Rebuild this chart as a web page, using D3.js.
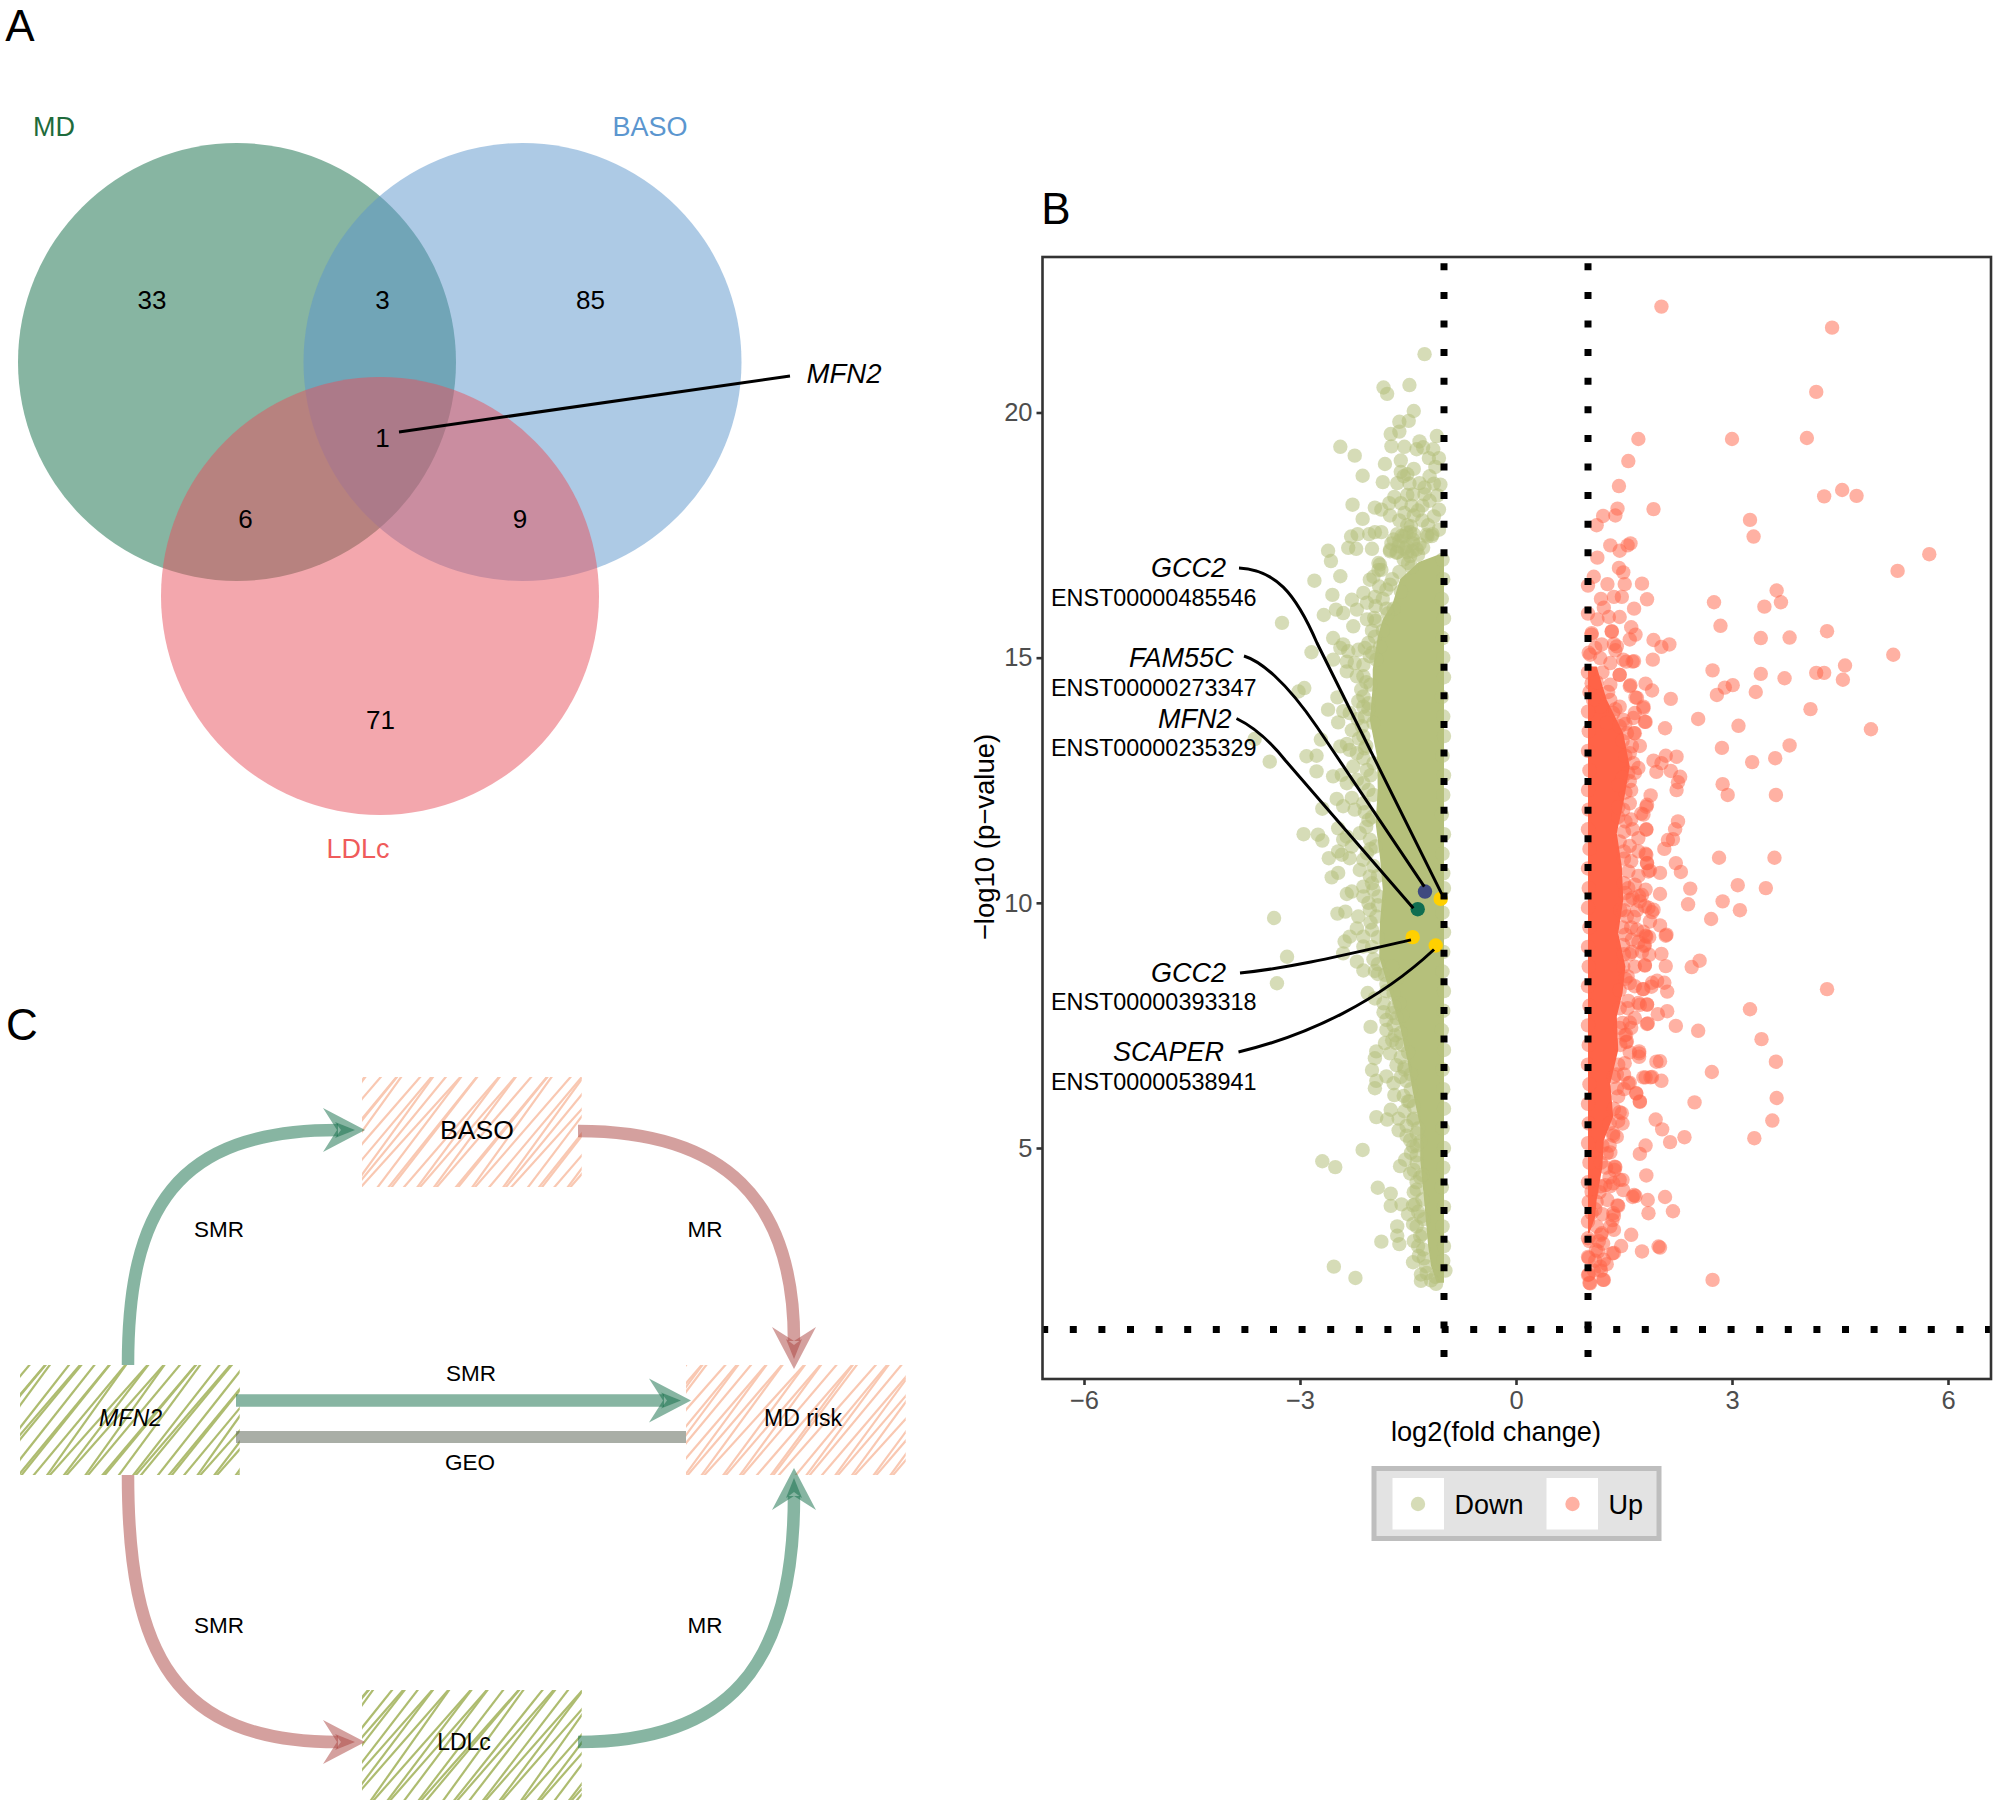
<!DOCTYPE html>
<html><head><meta charset="utf-8">
<script src="https://cdnjs.cloudflare.com/ajax/libs/d3/7.8.5/d3.min.js"></script>
<style>html,body{margin:0;padding:0;background:#fff}svg{display:block}text{font-family:"Liberation Sans",Arial,sans-serif}</style>
</head><body><svg id="c" width="1997" height="1805"></svg>
<script>
const xTicks=[-6,-3,0,3,6], yTicks=[5,10,15,20];
const thresholdX=[-1,1], thresholdY=[1.3];
const vennSets=["MD","BASO","LDLc"];
const vennCounts=["33","3","85","1","6","9","71"];
const legendLabels=["Down","Up"];
const highlightX=[-1.264,-1.046,-1.365,-1.435,-1.115];
const highlightY=[10.23,10.08,9.87,9.30,9.13];
const geneLabels=["GCC2","FAM55C","MFN2","GCC2","SCAPER"];
const transcriptLabels=["ENST00000485546","ENST00000273347","ENST00000235329","ENST00000393318","ENST00000538941"];
const downBandLeft=[[17.1,-1.08],[16.95,-1.35],[16.6,-1.61],[16.12,-1.71],[15.78,-1.85],[15.43,-1.92],[14.76,-1.99],[14.41,-1.99],[13.73,-2.03],[12.98,-1.93],[12.31,-1.92],[11.63,-1.95],[10.94,-1.89],[10.27,-1.85],[9.59,-1.89],[8.9,-1.9],[8.16,-1.75],[7.47,-1.61],[6.8,-1.51],[6.12,-1.43],[5.43,-1.33],[4.76,-1.33],[4,-1.28],[3,-1.22],[2.6,-1.18],[2.25,-1.1]];
const upBandRight=[[14.82,1.12],[14.14,1.26],[13.46,1.49],[12.78,1.58],[12.1,1.5],[11.42,1.4],[10.74,1.47],[10.06,1.49],[9.38,1.42],[8.7,1.52],[8.16,1.48],[7.68,1.4],[7.0,1.42],[6.32,1.31],[5.64,1.35],[5.16,1.22],[4.62,1.2],[3.94,1.12],[3.6,1.1],[3.26,1.02]];
const downPoints=[[-1.27,21.19],[-1.48,20.56],[-1.84,20.51],[-1.79,20.38],[-1.42,20.03],[-1.49,19.83],[-1.62,19.81],[-1.62,19.61],[-1.74,19.56],[-1.10,19.52],[-1.34,19.41],[-1.73,19.31],[-1.38,19.25],[-1.29,19.29],[-2.44,19.30],[-2.24,19.12],[-1.21,19.07],[-1.07,19.07],[-1.12,18.89],[-1.60,19.02],[-1.82,18.95],[-2.13,18.71],[-1.60,18.79],[-1.51,18.74],[-1.56,18.7],[-1.85,18.58],[-1.65,18.56],[-1.34,18.56],[-1.27,18.47],[-1.05,18.53],[-1.43,18.33],[-1.51,18.32],[-1.27,18.33],[-1.09,18.31],[-1.69,18.28],[-1.76,18.15],[-2.27,18.12],[-1.96,18.06],[-1.87,18.02],[-1.60,18.15],[-1.36,18.0],[-1.07,18.02],[-1.14,17.88],[-2.13,17.83],[-1.51,17.70],[-1.47,17.56],[-1.56,17.47],[-1.65,17.52],[-1.87,17.56],[-1.96,17.56],[-2.04,17.52],[-2.2,17.52],[-2.29,17.47],[-1.16,17.52],[-1.07,17.61],[-1.23,17.47],[-1.73,17.33],[-1.43,17.33],[-1.51,17.15],[-1.65,17.15],[-2.0,17.22],[-2.22,17.22],[-2.33,17.24],[-2.61,17.18],[-1.75,17.2],[-2.57,16.97],[-1.89,16.9],[-1.91,16.79],
[-1.70,17.41],[-1.63,17.27],[-1.52,17.55],[-1.43,17.41],[-1.38,17.21],[-1.47,17.07],[-1.56,17.0],[-1.75,17.17],[-1.52,17.27],[-1.34,17.31],[-1.46,17.68],[-1.59,17.48],[-1.66,17.14],[-1.24,17.51],[-1.17,17.48],[-1.29,17.24],[-1.5,16.93],[-1.62,17.38],[-1.42,17.52],[-1.55,17.22],[-1.36,17.1],[-1.44,17.17],
[-2.80,16.57],[-2.44,16.66],[-3.25,15.71],[-2.55,16.28],[-2.03,16.59],[-2.28,16.18],[-2.67,15.87],[-2.5,15.98],[-2.4,15.91],[-2.21,15.98],[-2.26,15.64],[-2.07,15.78],[-1.97,15.81],[-2.12,16.32],[-1.96,16.24],[-2.07,16.12],[-1.8,16.39],[-1.75,16.49],[-1.91,16.93],[-1.87,16.79],[-2.54,15.4],[-2.84,15.11],[-2.4,15.27],[-2.44,15.2],[-2.33,15.13],[-2.19,15.16],[-2.05,15.3],[-1.96,15.43],[-1.89,15.22],[-2.54,14.96],[-2.35,14.92],[-2.24,14.89],[-2.35,14.72],[-2.12,14.62],[-2.21,14.62],[-2.03,15.03],[-1.94,14.96],[-2.94,14.38],[-3.02,14.31],[-2.48,14.19],[-2.12,14.21],[-2.19,14.11],[-2.61,13.94],[-2.4,13.91],[-2.47,13.68],[-2.31,13.87],[-2.1,13.8],[-2.28,13.52],[-2.05,14.07],[-1.98,13.67],
[-3.63,13.34],[-2.71,13.33],[-2.35,13.24],[-2.12,13.4],[-3.42,12.88],[-2.91,12.99],[-2.77,13.0],[-2.77,12.68],[-2.54,12.58],[-2.42,12.61],[-2.35,12.44],[-2.21,12.51],[-2.07,12.71],[-2.12,12.44],[-2.26,12.78],[-2.44,13.19],[-2.31,13.12],[-2.21,13.05],[-2.49,12.12],[-2.4,11.97],[-2.28,12.14],[-2.24,11.9],[-2.12,12.03],[-2.69,11.92],[-2.05,11.69],[-2.47,11.52],[-2.35,11.35],[-2.4,11.29],[-2.28,11.15],[-2.17,11.42],[-2.03,11.29],[-2.95,11.4],[-2.75,11.39],[-2.69,11.27],[-2.6,10.91],[-2.47,11.05],[-2.42,10.98],[-2.31,10.91],[-2.56,10.52],[-2.47,10.61],[-2.17,10.67],[-2.12,10.88],[-2.03,10.54],[-2.07,11.01],[-2.35,10.18],[-2.28,10.23],[-2.12,10.33],[-2.12,10.13],[-1.98,10.27],[-1.91,10.13],[-3.36,9.69],[-2.48,9.78],[-2.37,9.82],[-2.19,9.72],[-2.03,9.86],[-1.94,9.72],[-2.21,9.48],[-2.31,9.31],[-2.38,9.21],[-2.12,9.31],[-2.0,9.45],[-3.18,8.9],[-2.4,8.97],[-2.12,9.11],
[-3.32,8.36],[-2.21,8.8],[-2.12,8.62],[-1.96,8.61],[-1.82,8.53],[-2.06,8.16],[-1.96,8.05],[-1.84,7.95],[-1.84,7.77],[-1.69,7.88],[-2.02,7.47],[-1.8,7.61],[-1.8,7.41],[-1.66,7.65],[-1.82,7.14],[-1.94,6.97],[-1.96,6.83],[-2.0,6.59],[-1.75,6.93],[-1.66,7.14],[-1.66,6.69],[-1.94,6.37],[-1.96,6.22],[-1.8,6.46],[-1.7,6.32],[-1.69,6.08],[-1.56,6.06],[-1.52,6.37],[-1.74,5.78],[-1.94,5.63],[-1.79,5.58],[-1.63,5.6],[-1.63,5.36],[-1.43,5.57],[-1.47,5.16],[-2.13,4.96],[-2.69,4.73],[-2.51,4.61],[-1.61,4.63],[-1.54,4.76],[-1.47,4.48],[-1.43,5.03],[-1.33,5.13],
[-1.92,4.19],[-1.74,4.07],[-1.59,3.85],[-1.74,3.82],[-1.43,3.83],[-1.65,3.4],[-1.43,3.45],[-1.87,3.09],[-1.65,3.21],[-1.62,3.04],[-1.29,2.93],[-1.43,2.67],[-2.53,2.58],[-2.23,2.35],[-1.32,2.42],[-1.32,2.29],[-1.12,2.37],[-1.11,2.23],[-0.98,2.5],[-1.25,2.59],
[-1.38,4.3],[-1.36,3.7],[-1.33,3.2],[-1.42,4.1],[-1.3,4.45],[-1.28,3.55],[-1.5,3.65],[-1.42,3.1],[-1.35,2.8],
[-1.78,15.9],[-1.85,15.55],[-1.7,16.0],[-1.6,16.35],[-1.45,16.85],[-2.0,15.1],[-2.02,14.45],[-2.05,13.95],[-2.08,13.2],[-1.98,12.85],[-1.98,12.2],[-2.0,11.75],[-1.95,11.15],[-1.92,10.55],[-1.92,9.95],[-1.92,9.3],[-1.92,8.75],[-1.8,8.2],[-1.68,7.3],[-1.55,6.65],[-1.48,5.95],[-1.38,5.3],[-1.38,4.85],
[-1.02,17.0],[-1.01,16.6],[-1.03,16.2],[-1.0,15.8],[-1.02,15.4],[-1.01,15.0],[-1.0,14.6],[-1.03,14.2],[-1.01,13.8],[-1.0,13.4],[-1.02,13.0],[-1.0,12.6],[-1.01,12.2],[-1.03,11.8],[-1.0,11.4],[-1.02,11.0],[-1.01,10.6],[-1.0,10.3],[-1.02,9.8],[-1.0,9.4],[-1.01,9.0],[-1.02,8.6],[-1.0,8.2],[-1.01,7.8],[-1.03,7.4],[-1.0,7.0],[-1.02,6.6],[-1.01,6.2],[-1.0,5.8],[-1.02,5.4],[-1.0,5.0],[-1.01,4.6],[-1.03,4.2],[-1.0,3.8],[-1.02,3.4],[-1.0,3.0],[-1.01,2.7],
[-1.72,8.7],[-1.66,8.45],[-1.8,8.35],[-1.7,8.15],[-1.62,7.95],[-1.72,7.75],[-1.58,7.7],[-1.7,7.5],[-1.6,7.35],[-1.72,7.2],[-1.58,7.1],[-1.5,6.95],[-1.6,6.85],[-1.55,6.6],[-1.46,6.5],[-1.6,6.45],[-1.46,6.2],[-1.5,5.95],[-1.42,5.85],[-1.55,5.75],[-1.42,5.6],[-1.52,5.45],[-1.36,5.4],[-1.52,5.25],[-1.38,5.05],[-1.46,4.9],[-1.38,4.7],[-1.42,4.55],[-1.33,4.4],[-1.38,4.15],[-1.3,3.95],[-1.4,3.85],[-1.32,3.6],[-1.38,3.4],[-1.3,3.25],[-1.36,3.0],[-1.28,2.75],[-1.24,2.45],[-1.18,2.3],
[-2.0,9.1],[-1.98,8.85],[-1.92,8.55],[-2.02,9.6],[-2.05,10.0],[-2.0,10.4],[-1.98,10.75],[-2.02,11.1],[-2.08,11.55],[-2.1,11.85],[-2.05,12.3],[-2.02,12.6],[-2.12,12.95],[-2.1,13.15],[-2.18,13.35],[-2.14,13.6],[-2.2,13.75],[-2.12,14.0],[-2.15,14.35],[-2.08,14.5],[-2.12,14.85],[-2.1,15.2],[-2.0,15.55],[-1.95,15.75],[-1.95,16.05],[-1.85,16.2],[-1.8,16.0],[-1.72,16.6],[-1.62,16.75],[-1.9,16.45],[-1.98,16.65],
[-1.3,18.1],[-1.2,18.2],[-1.45,18.1],[-1.55,17.95],[-1.3,17.8],[-1.42,17.9],[-1.62,17.8],[-1.75,17.9],[-1.22,17.7],[-1.14,18.55],[-1.48,18.55],[-1.2,18.7],[-1.42,18.85],[-1.15,19.25],[-1.55,19.3]];
const upPoints=[[2.02,22.16],[4.39,21.73],[4.17,20.42],[1.70,19.46],[3.00,19.46],[4.04,19.48],[1.56,19.01],[1.43,18.50],[4.28,18.29],[4.53,18.42],[4.73,18.30],[1.41,18.04],[1.91,18.03],[1.21,17.89],[1.38,17.90],[1.12,17.70],[3.25,17.81],[3.30,17.47],[5.74,17.11],[5.30,16.77],[1.31,17.29],[1.44,17.18],[1.55,17.29],[1.59,17.33],[1.13,17.04],[1.43,16.83],[1.49,16.74],[1.08,16.65],[1.0,16.47],[1.27,16.50],[1.51,16.50],[1.75,16.51],[3.62,16.37],[3.68,16.13],[3.45,16.04],[2.75,16.13],[1.82,16.19],[1.47,16.24],[1.36,16.24],[1.18,16.2],[1.22,16.02],[1.64,16.0],[1.44,15.83],[1.13,15.78],[1.29,15.83],[2.84,15.65],[1.60,15.62],[1.33,15.53],[1.05,15.47],[1.66,15.47],[4.32,15.54],[3.40,15.40],[3.80,15.41],[1.91,15.36],[2.02,15.22],[2.13,15.27],[1.58,15.37],[1.36,15.28],[1.38,15.15],[5.24,15.06],[1.90,14.96],[1.62,14.92],[1.53,14.92],[4.57,14.84],[2.73,14.74],[3.40,14.67],[4.17,14.69],[4.28,14.69],[3.73,14.58],[4.54,14.55],[1.44,14.65],[1.80,14.47],[1.59,14.44],[3.01,14.44],[2.90,14.39],[2.79,14.24],[3.33,14.30],[1.89,14.33],[2.15,14.16],[1.66,14.19],[1.77,14.0],[4.09,13.95],[2.53,13.75],[1.80,13.69],[2.07,13.56],[3.09,13.61],[4.93,13.54],[1.64,13.46],[3.80,13.21],[2.86,13.16],[3.28,12.87],[3.60,12.95],[2.23,12.98],[2.08,13.0],[1.91,12.9],[2.02,12.85],[1.95,12.67],[2.15,12.69],[2.28,12.57],[2.25,12.46],[2.23,12.3],[2.87,12.42],[2.94,12.2],[3.61,12.2],[1.87,12.19],[1.81,11.96],[1.74,11.82],[2.25,11.66],[2.21,11.5],[2.11,11.28],[2.18,11.3],[2.06,11.1],[1.81,11.5],[2.82,10.92],[3.59,10.92],[1.80,11.0],[1.82,10.81],[2.22,10.81],[1.86,10.66],[2.0,10.61],[2.29,10.63],[2.42,10.29],[3.08,10.36],[3.47,10.30],[1.8,10.27],[1.71,10.14],[2.0,10.18],[2.39,9.97],[2.87,10.03],[3.11,9.85],[2.71,9.67],[1.89,9.81],[1.84,9.9],[2.0,9.54],[2.09,9.35],[1.8,9.33],[1.78,9.12],[2.08,9.33],[2.55,8.82],[2.44,8.69],[2.02,8.96],[2.08,8.71],[1.79,8.73],[4.32,8.24],[2.06,8.37],[2.10,8.19],[1.89,8.37],[1.77,8.24],[1.96,8.41],[3.25,7.83],[1.82,7.93],[1.70,7.96],[2.10,7.79],[1.97,7.73],[1.82,7.53],[2.22,7.49],[2.53,7.39],[1.53,7.31],[1.58,7.56],[3.41,7.22],[1.53,7.16],[1.71,6.93],[1.95,6.76],[2.0,6.77],[3.61,6.76],[2.72,6.55],[1.80,6.44],[1.89,6.45],[2.02,6.37],[1.58,6.33],[1.67,6.11],[1.72,5.94],[3.62,6.02],[2.48,5.93],[3.56,5.56],[1.44,5.73],[1.94,5.58],[2.03,5.38],[1.35,5.25],[2.34,5.22],[3.31,5.2],[2.14,5.12],[1.80,5.05],[1.72,4.88],[1.31,4.91],[1.38,4.61],[1.81,4.44],[1.44,4.35],[1.31,4.22],[1.18,4.22],[1.66,4.02],[1.62,4.0],[2.07,4.0],[1.83,3.94],[2.18,3.71],[1.84,3.67],[1.41,3.83],[1.36,3.62],[1.31,3.40],[1.60,3.23],[1.18,3.23],[1.46,3.0],[1.98,2.99],[2.0,2.97],[1.75,2.89],[1.36,2.86],[1.14,2.89],[1.22,2.72],[1.01,2.76],[1.18,2.50],[1.01,2.42],[2.73,2.31],[1.22,2.31],[1.02,2.25],
[1.33,15.54],[1.19,15.27],[1.40,15.23],[1.05,15.5],[1.03,15.06],[1.17,14.99],[1.31,14.89],[1.49,14.96],[1.64,14.93],[1.44,14.65],[1.31,14.45],[1.58,14.42],[1.68,14.18],[1.77,13.97],[1.44,14.0],[1.65,13.87],[1.79,13.69],[1.63,13.77],[1.65,13.46],[1.54,13.46],[1.61,13.19],[1.58,13.05],[1.63,12.85],[1.56,12.65],[1.65,12.65],[1.58,12.48],[1.31,14.14],[1.17,14.0],[1.35,13.87],[1.49,13.73],[1.26,13.67],[1.07,14.14],[1.05,14.48],[1.44,13.6],
[1.58,12.03],[1.82,12.0],[1.49,11.9],[1.77,11.8],[1.52,11.66],[1.81,11.49],[1.7,11.32],[1.58,11.16],[1.81,10.98],[1.82,10.81],[1.84,10.64],[1.56,10.64],[1.65,10.37],[1.75,10.16],[1.72,10.03],[1.56,10.3],[1.58,10.06],[1.91,9.86],[1.79,9.93],[1.64,9.71],[1.54,9.72],[1.86,9.62],[1.77,9.41],[1.81,9.31],[1.85,9.3],[1.79,9.14],[1.61,9.25],[1.49,9.14],[1.61,9.0],[1.75,9.0],[1.85,8.94],[1.79,8.72],[1.49,8.7],[1.58,8.36],[1.76,8.24],[1.88,8.29],[1.44,8.22],
[1.56,8.0],[1.72,7.92],[1.82,7.92],[1.65,7.65],[1.83,7.54],[1.51,7.3],[1.54,7.17],[1.71,6.97],[1.71,6.86],[1.51,6.73],[1.77,6.44],[1.87,6.44],[1.56,6.32],[1.67,6.12],[1.72,5.95],[1.47,5.71],[1.4,6.22],[1.42,6.05],[1.35,5.3],[1.4,5.23],[1.26,4.89],[1.37,4.62],[1.37,4.55],[1.48,4.35],[1.35,4.28],[1.24,4.24],[1.49,4.14],[1.64,4.04],[1.27,3.94],[1.42,3.82],[1.35,3.67],[1.34,3.53],[1.36,3.33],[1.19,3.26],[1.21,3.05],[1.11,2.92],[1.34,2.85],[1.26,2.63],[1.17,2.58],[1.0,2.41],[1.03,2.24],[1.21,2.31],[1.0,2.78],[1.0,3.16],[1.05,3.67],[1.05,4.11],
[1.0,15.9],[1.01,15.1],[1.0,14.7],[1.02,14.3],[1.0,13.9],[1.01,13.5],[1.0,13.1],[1.02,12.7],[1.0,12.3],[1.01,11.9],[1.0,11.5],[1.02,11.1],[1.0,10.7],[1.01,10.3],[1.0,9.9],[1.02,9.5],[1.0,9.1],[1.01,8.7],[1.0,8.3],[1.02,7.9],[1.0,7.5],[1.01,7.1],[1.0,6.7],[1.02,6.3],[1.0,5.9],[1.01,5.5],[1.0,5.1],[1.02,4.7],[1.0,4.3],[1.01,3.9],[1.0,3.5],[1.02,3.1],
[1.1,15.2],[1.2,14.7],[1.12,14.5],[1.28,14.3],[1.38,13.95],[1.48,13.3],[1.52,13.0],[1.48,12.55],[1.52,12.25],[1.42,11.75],[1.44,11.25],[1.5,10.9],[1.5,10.4],[1.45,9.85],[1.48,9.5],[1.5,8.95],[1.52,8.45],[1.44,7.85],[1.44,7.45],[1.42,6.7],[1.36,6.45],[1.36,5.8],[1.2,5.05],[1.18,4.7],[1.16,4.1],[1.12,3.4],[1.1,3.75],
[1.42,12.4],[1.6,12.3],[1.7,12.75],[1.72,13.2],[1.52,13.65],[1.42,11.95],[1.6,11.7],[1.5,11.45],[1.62,11.5],[1.7,11.05],[1.5,11.05],[1.6,10.85],[1.7,10.55],[1.52,10.2],[1.62,10.1],[1.68,9.85],[1.5,9.85],[1.6,9.5],[1.68,9.45],[1.52,9.35],[1.7,9.2],[1.58,8.95],[1.65,8.7],[1.55,8.5],[1.65,8.3],[1.55,7.85],[1.48,7.55],[1.6,7.45],[1.45,7.1],[1.58,6.95],[1.5,6.5],[1.4,6.5],[1.5,6.2],[1.42,5.55],[1.3,5.5],[1.48,5.5],[1.3,5.05],[1.25,4.6],[1.3,4.4],[1.12,3.9],[1.2,3.65],[1.15,3.1],[1.1,2.7],[1.08,2.5]];
const hatchJitter=[0,6,-4,3,-7,7,-3,4,-6,1,8,-2,-8,3,5,-4];

const svg=d3.select("#c");
svg.append("rect").attr("width",1997).attr("height",1805).attr("fill","#fff");
const label=(t,x,y,size,o={})=>svg.append("text").text(t).attr("x",x).attr("y",y).attr("font-size",size)
  .attr("text-anchor",o.anchor||"middle").attr("dominant-baseline","central").attr("fill",o.fill||"#000")
  .attr("font-style",o.italic?"italic":"normal").attr("transform",o.transform||null);
[["A",20,25],["B",1056,208],["C",22,1024]].forEach(d=>label(d[0],d[1],d[2],44));

/* ---------- Panel A ---------- */
const vennCircles=[[237,362,"#0F6B45"],[522.5,362,"#5C96CC"],[380,596,"#E8505B"]];
svg.append("g").selectAll("circle").data(vennCircles).join("circle")
  .attr("cx",d=>d[0]).attr("cy",d=>d[1]).attr("r",219).attr("fill",d=>d[2]).attr("fill-opacity",.5);
[[54,127,"#1E6B3C"],[650,127,"#5B96CF"],[358,849,"#EF5B5B"]].forEach((d,i)=>label(vennSets[i],d[0],d[1],27,{fill:d[2]}));
[[152,300],[382.5,300],[590.5,300],[382.5,438],[245.5,519],[520,519],[380.5,720]].forEach((d,i)=>label(vennCounts[i],d[0],d[1],26));
svg.append("line").attr("x1",399).attr("y1",432).attr("x2",790).attr("y2",376).attr("stroke","#000").attr("stroke-width",3);
label("MFN2",844,373,27.5,{italic:true});

/* ---------- Panel B ---------- */
const x=d3.scaleLinear().domain([-6,6]).range([1084,1948]);
const y=d3.scaleLinear().domain([5,20]).range([1148,412.5]);
const P={l:1042.5,r:1991,t:257,b:1379};
const R=7.2;
svg.append("clipPath").attr("id","pc").append("rect").attr("x",P.l).attr("y",P.t).attr("width",P.r-P.l).attr("height",P.b-P.t);
const plot=svg.append("g").attr("clip-path","url(#pc)");
const DOWN="#B5C07B", UP="#FF6347";
plot.append("path").datum(downBandLeft).attr("fill",DOWN)
  .attr("d",d3.area().y(d=>y(d[0])).x0(d=>x(d[1])).x1(()=>x(-1)));
plot.append("path").datum(upBandRight).attr("fill",UP)
  .attr("d",d3.area().y(d=>y(d[0])).x0(()=>x(1)).x1(d=>x(d[1])));
plot.append("g").selectAll("circle").data(downPoints).join("circle").attr("cx",d=>x(d[0])).attr("cy",d=>y(d[1])).attr("r",R).attr("fill",DOWN).attr("fill-opacity",.55);
plot.append("g").selectAll("circle").data(upPoints).join("circle").attr("cx",d=>x(d[0])).attr("cy",d=>y(d[1])).attr("r",R).attr("fill",UP).attr("fill-opacity",.5);
const hc=["#3F4A7F","#FFD000","#106E51","#FFD000","#FFD000"];
highlightX.forEach((v,i)=>plot.append("circle").attr("cx",x(v)).attr("cy",y(highlightY[i])).attr("r",R).attr("fill",hc[i]));
thresholdX.forEach(v=>plot.append("line").attr("x1",x(v)).attr("x2",x(v)).attr("y1",263.3).attr("y2",P.b).attr("stroke","#000").attr("stroke-width",7).attr("stroke-dasharray","7 21.6"));
thresholdY.forEach(v=>plot.append("line").attr("y1",y(v)).attr("y2",y(v)).attr("x1",1041.2).attr("x2",P.r).attr("stroke","#000").attr("stroke-width",7).attr("stroke-dasharray","7 21.6"));
const leaderTarget=[[1,1,-5],[0,-.7,-5],[2,-4.4,-1],[3,-1.7,2.7],[4,-1.7,4]];
const leaderPaths=[
 e=>`M1239,568C1275,570 1295,592 1317,643L${e}`,
 e=>`M1244,656C1260,661 1285,680 1317,727L${e}`,
 e=>`M1236.5,718.5C1250,725 1265,735 1285,760L${e}`,
 e=>`M1240,973C1290,968 1340,956 ${e}`,
 e=>`M1238.5,1052C1310,1035 1380,1000 ${e}`];
leaderPaths.forEach((f,i)=>{const t=leaderTarget[i],k=t[0];
  svg.append("path").attr("fill","none").attr("stroke","#000").attr("stroke-width",3).attr("d",f((x(highlightX[k])+t[1])+","+(y(highlightY[k])+t[2])));});
[[1226,568,598],[1233.5,658,688],[1231.5,718.5,747.5],[1226,972.5,1002],[1224,1052,1082]].forEach((d,i)=>{
  label(geneLabels[i],d[0],d[1],27,{italic:true,anchor:"end"});
  label(transcriptLabels[i],1153.7,d[2],23.4);
});
svg.append("rect").attr("x",P.l).attr("y",P.t).attr("width",P.r-P.l).attr("height",P.b-P.t).attr("fill","none").attr("stroke","#333").attr("stroke-width",2.6);
const fmt=d=>String(d).replace("-","\u2212");
const gx=svg.append("g").attr("transform",`translate(0,${P.b})`).call(d3.axisBottom(x).tickValues(xTicks).tickSize(6).tickPadding(6).tickFormat(fmt));
const gy=svg.append("g").attr("transform",`translate(${P.l},0)`).call(d3.axisLeft(y).tickValues(yTicks).tickSize(6).tickPadding(4).tickFormat(fmt));
[gx,gy].forEach(g=>{g.select(".domain").remove();g.selectAll("line").attr("stroke","#333").attr("stroke-width",2.6);
  g.selectAll("text").attr("font-size",25.5).attr("fill","#4D4D4D").attr("font-family","Liberation Sans");});
label("log2(fold change)",1496,1431.5,27.2);
label("\u2212log10 (p\u2212value)",984,837,27.5,{transform:"rotate(-90 984 837)"});
svg.append("rect").attr("x",1374).attr("y",1468.5).attr("width",285).attr("height",70).attr("fill","#E3E3E3").attr("stroke","#BEBEBE").attr("stroke-width",5);
[[1392.5,1418,DOWN,.55],[1546.5,1572.5,UP,.5]].forEach(d=>{
  svg.append("rect").attr("x",d[0]).attr("y",1478).attr("width",51.5).attr("height",51.5).attr("fill","#fff");
  svg.append("circle").attr("cx",d[1]).attr("cy",1504).attr("r",R).attr("fill",d[2]).attr("fill-opacity",d[3]);
});
label(legendLabels[0],1454.5,1505,27,{anchor:"start"});
label(legendLabels[1],1608.5,1505,27,{anchor:"start"});

/* ---------- Panel C ---------- */
const boxes=[[362,1077,"#F9C8B2","BASO",477,1130,26.6,false],[20,1365,"#AEBC70","MFN2",130.6,1418,23.2,true],[686,1365,"#F9C8B2","MD risk",803,1418,23,false],[362,1690,"#AEBC70","LDLc",464,1742,23,false]];
const W=219.7,H=110;
boxes.forEach((b,i)=>{
  const id="h"+i;
  svg.append("clipPath").attr("id",id).append("rect").attr("x",b[0]).attr("y",b[1]).attr("width",W).attr("height",H);
  const g=svg.append("g").attr("clip-path",`url(#${id})`).attr("stroke",b[2]).attr("stroke-width",2.2).attr("fill","none");
  const starts=d3.range(b[0]-110,b[0]+W+5,9.4);
  g.selectAll("line").data(starts).join("line")
   .attr("x1",(d,j)=>d+hatchJitter[(j+i*3)%16]*.7).attr("y1",b[1]+H+2)
   .attr("x2",(d,j)=>d+92+hatchJitter[(j+5+i)%16]*.9).attr("y2",b[1]-2);
});
const G="#0F6B45",Rd="#A9413D",Gy="#535D4D";
function head(tx,ty,ang,col){
  const a=ang*Math.PI/180;
  const draw=pts=>{const p=pts.map(q=>[tx+q[0]*Math.cos(a)-q[1]*Math.sin(a),ty+q[0]*Math.sin(a)+q[1]*Math.cos(a)]);
    svg.append("path").attr("d",d3.line()(p)+"Z").attr("fill",col).attr("fill-opacity",.5);};
  draw([[0,0],[-42,-22],[-28,0],[-42,22]]);
  draw([[-10,0],[-30,-8],[-24,0],[-30,8]]);
}
const link=(d,col)=>svg.append("path").attr("d",d).attr("fill","none").attr("stroke",col).attr("stroke-width",12.5).attr("stroke-opacity",.5);
link("M128,1365C128,1210 175,1130 338,1130",G); head(365,1130,0,G);
link("M578,1131C725,1131 794,1200 794,1341",Rd); head(794,1369,90,Rd);
link("M128,1475C128,1655 175,1742 338,1742",Rd); head(365,1742,0,Rd);
link("M578,1742C725,1742 794,1670 794,1496",G); head(794,1468,-90,G);
link("M236,1400.5L664,1400.5",G); head(691,1400.5,0,G);
svg.append("line").attr("x1",236).attr("x2",686).attr("y1",1437).attr("y2",1437).attr("stroke",Gy).attr("stroke-opacity",.5).attr("stroke-width",12);
boxes.forEach(b=>label(b[3],b[4],b[5],b[6],{italic:b[7]}));
[["SMR",219,1229],["MR",705,1229],["SMR",219,1625],["MR",705,1625],["SMR",471,1373],["GEO",470,1462.5]].forEach(d=>label(d[0],d[1],d[2],22.5));
</script></body></html>
